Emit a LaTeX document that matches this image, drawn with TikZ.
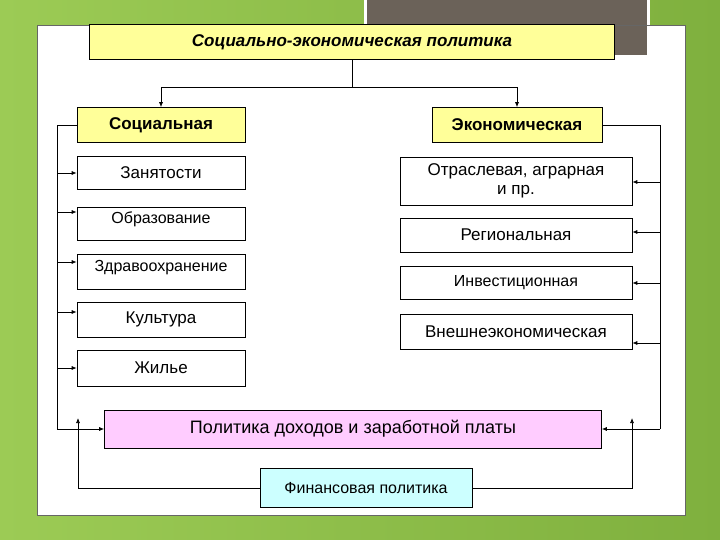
\documentclass[tikz,border=0pt]{standalone}
\usepackage{fontspec}
\setmainfont{Liberation Sans}
\usetikzlibrary{arrows.meta}
\definecolor{bgA}{HTML}{9CCB55}
\definecolor{bgB}{HTML}{7FB03E}
\definecolor{dk}{HTML}{6B6259}
\definecolor{yl}{HTML}{FFFF99}
\definecolor{pk}{HTML}{FFCCFF}
\definecolor{cy}{HTML}{CCFFFF}
\begin{document}
\begin{tikzpicture}[x=1pt,y=-1pt,
  bx/.style={draw=black,line width=0.6pt,minimum height=35pt,inner sep=2pt,font=\fontsize{17}{19}\selectfont},
  yel/.style={bx,fill=yl,font=\bfseries\fontsize{17}{19}\selectfont},
  ln/.style={line width=0.7pt},
  ar/.style={ln,-{Latex[length=5pt,width=4pt]}}]
\useasboundingbox (0,0) rectangle (720,540);
\shade[left color=bgA, right color=bgB] (0,0) rectangle (720,540);
\fill[white] (37,25) rectangle (685,515);
\draw[white,line width=3pt,fill=dk] (365,-5) rectangle (648,57);
\draw[black!60,line width=0.5pt] (37,25) rectangle (685,515);
\node[yel,minimum width=525pt,font=\bfseries\itshape\fontsize{17}{19}\selectfont] (t) at (352,42) {Социально-экономическая политика};
\node[yel,minimum width=168pt] (s) at (161,125) {Социальная};
\node[yel,minimum width=170pt] (e) at (517,125) {Экономическая};
\node[bx,minimum width=168pt,minimum height=33pt] (s1) at (161,173) {Занятости};
\node[bx,minimum width=168pt,minimum height=33pt] (s2) at (161,224) {};
\node[font=\fontsize{16}{18}\selectfont] (s2t) at (161,219) {Образование};
\node[bx,minimum width=168pt,minimum height=35pt] (s3) at (161,272) {};
\node[font=\fontsize{16}{18}\selectfont] (s3t) at (161,268) {Здравоохранение};
\node[bx,minimum width=168pt,minimum height=35pt] (s4) at (161,320) {};
\node[font=\fontsize{17}{19}\selectfont] (s4t) at (161,319) {Культура};
\node[bx,minimum width=168pt,minimum height=36pt] (s5) at (161,368) {Жилье};
\node[bx,minimum width=232pt,minimum height=48pt,align=center] (e1) at (516,181) {Отраслевая, аграрная\\ и пр.};
\node[bx,minimum width=232pt,minimum height=34pt] (e2) at (516,235) {Региональная};
\node[bx,minimum width=232pt,minimum height=33pt,font=\fontsize{16}{18}\selectfont] (e3) at (516,283) {Инвестиционная};
\node[bx,minimum width=232pt,minimum height=35pt] (e4) at (516,332) {Внешнеэкономическая};
\node[bx,minimum width=497pt,minimum height=38pt,fill=pk,font=\fontsize{18}{20}\selectfont] (p) at (353,429) {Политика доходов и заработной платы};
\node[bx,minimum width=212pt,minimum height=39pt,fill=cy,font=\fontsize{16}{18}\selectfont] (f) at (366,488) {Финансовая политика};
% top
\draw[ln] (t.south) -- ++(0,28) coordinate (m);
\draw[ar] (m) -| (s.north);
\draw[ar] (m) -| (e.north);
% left bus
\coordinate (L) at (57,0);
\draw[ln] (s.west) -| (L |- p);
\draw[ar] (L |- p) -- (p.west);
\draw[ar] (L |- s1) -- (s1.west);
\draw[ar] (57,212) -- (s2.west |- 0,212);
\draw[ar] (57,262) -- (s3.west |- 0,262);
\draw[ar] (57,312) -- (s4.west |- 0,312);
\draw[ar] (L |- s5) -- (s5.west);
% right bus
\coordinate (R) at (660,0);
\draw[ln] (e.east) -| (R |- p);
\draw[ar] (R |- p) -- (p.east);
\draw[ar] (660,182) -- (e1.east |- 0,182);
\draw[ar] (660,232) -- (e2.east |- 0,232);
\draw[ar] (660,283) -- (e3.east |- 0,283);
\draw[ar] (660,343) -- (e4.east |- 0,343);
% financial
\draw[ar] (f.west) -| (78,418);
\draw[ar] (f.east) -| (632,418);
\end{tikzpicture}
\end{document}
